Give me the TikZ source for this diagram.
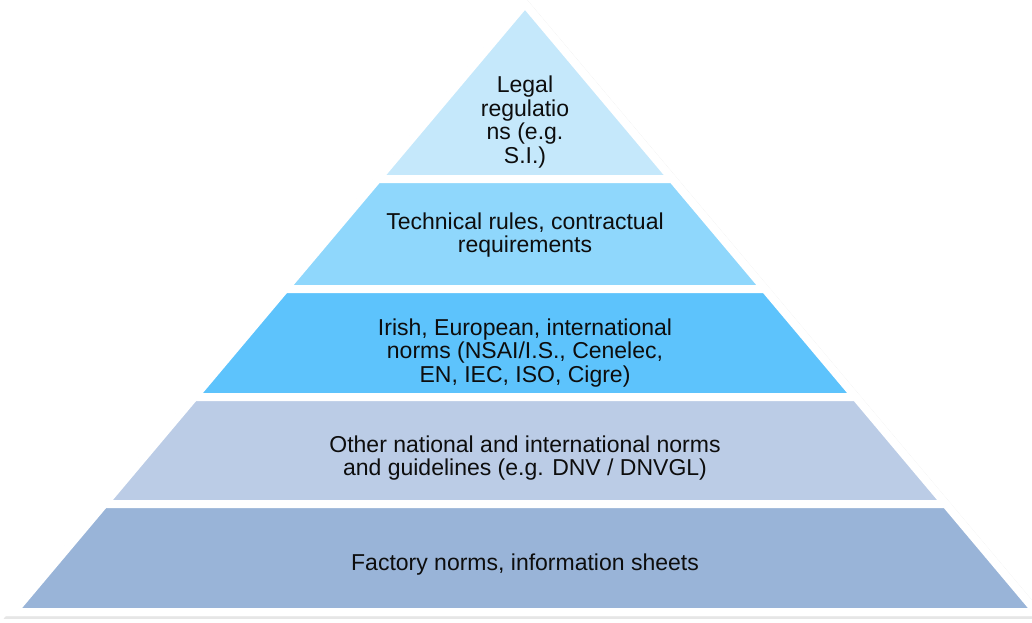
\documentclass[tikz,border=0pt]{standalone}
\usepackage{fontspec}
\setmainfont{Liberation Sans}
\usetikzlibrary{shadows}
\definecolor{legalblue}{RGB}{197,232,251}
\definecolor{techblue}{RGB}{143,215,252}
\definecolor{normblue}{RGB}{93,195,252}
\definecolor{otherblue}{RGB}{187,204,230}
\definecolor{factoryblue}{RGB}{153,180,216}
\begin{document}
\begin{tikzpicture}[x=1pt,y=-1pt,
  tier/.style={draw=white, line width=8pt, line join=miter},
  tiertext/.style={align=center, font=\fontsize{23}{23.6}\selectfont, text=black!95}]
\useasboundingbox (0,0) rectangle (1032,622);
% outer white border with its shadow
\fill[white, drop shadow={shadow scale=1.004, shadow xshift=0.6pt, shadow yshift=-1.6pt, opacity=0.2}]
  (525,-2.4) -- (1045,616) -- (5,616) -- cycle;
% tiers, top to bottom
\filldraw[tier, fill=legalblue] (525,3.8) -- (672.3,179) -- (377.7,179) -- cycle;
\filldraw[tier, fill=techblue] (377.7,179) -- (672.3,179) -- (764.9,289) -- (285.1,289) -- cycle;
\filldraw[tier, fill=normblue] (285.1,289) -- (764.9,289) -- (855.7,397) -- (194.3,397) -- cycle;
\filldraw[tier, fill=otherblue] (194.3,397) -- (855.7,397) -- (945.7,504) -- (104.3,504) -- cycle;
\filldraw[tier, fill=factoryblue] (104.3,504) -- (945.7,504) -- (1036.5,612) -- (13.5,612) -- cycle;
% labels
\node[tiertext] (legal) at (525,122) {Legal\\regulatio\\ns (e.g.\\S.I.)};
\node[tiertext] (tech) at (525,235) {Technical rules, contractual\\requirements};
\node[tiertext] (norms) at (525,353) {Irish, European, international\\norms (NSAI/I.S., Cenelec,\\EN, IEC, ISO, Cigre)};
\node[tiertext] (other) at (525,458) {Other national and international norms\\and guidelines (e.g. DNV / DNVGL)};
\node[tiertext] (factory) at (525,565) {Factory norms, information sheets};
\end{tikzpicture}
\end{document}
